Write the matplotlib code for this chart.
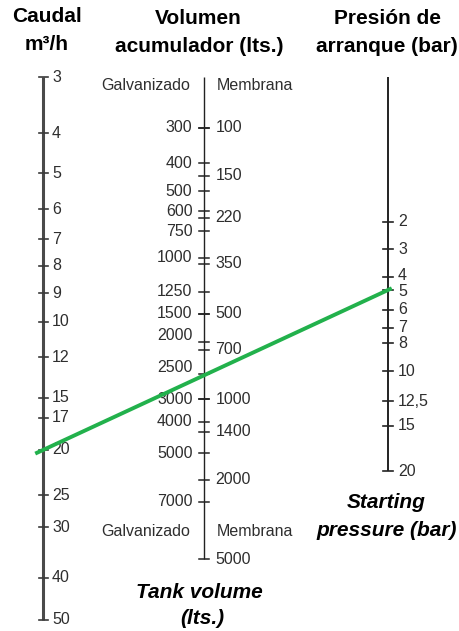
import numpy as np
from matplotlib import pyplot as plt

plt.rcParams['font.family'] = ['Liberation Sans', 'DejaVu Sans']

# scale values and where they sit on each axis (px from top)
caudal_vals = [3, 4, 5, 6, 7, 8, 9, 10, 12, 15, 17, 20, 25, 30, 40, 50]
caudal_pos = [77, 133, 173, 209, 239, 266, 293, 322, 357, 398, 418, 450, 495, 527, 578, 620]

galv_vals = [300, 400, 500, 600, 750, 1000, 1250, 1500, 2000, 2500, 3000, 4000, 5000, 7000]
galv_pos = [128, 163, 191, 211, 231, 258, 292, 314, 342, 374, 399, 422, 453, 502]

memb_vals = [100, 150, 220, 350, 500, 700, 1000, 1400, 2000, 5000]
memb_pos = [128, 176, 218, 264, 314, 350, 399, 432, 480, 559]

pres_vals = [2, 3, 4, 5, 6, 7, 8, 10, 12.5, 15, 20]
pres_labels = ['2', '3', '4', '5', '6', '7', '8', '10', '12,5', '15', '20']
pres_pos = [222, 249, 277, 290, 310, 328, 343, 371, 401, 426, 471]

# example reading drawn in green
read_caudal = 20
read_pres = 5

#--------------------------------------------------------------------------------------------
fig = plt.figure(figsize=(4.59, 6.31), dpi=100)
ax = fig.add_axes([0, 0, 1, 1])
ax.set_xlim(0, 459)
ax.set_ylim(631, 0)
ax.axis('off')

xl, xm, xr = 43, 203.5, 388
lab_c = '#2e2e2e'
fs = 11.5

def draw_axis(x, top, bottom, lw, color):
  ax.plot([x, x], [top, bottom], color=color, lw=lw, solid_capstyle='butt', zorder=2)

def ticks(x, pos, half, lw, color):
  for p in pos:
    ax.plot([x - half, x + half], [p, p], color=color, lw=lw, zorder=2)

# caudal
draw_axis(xl, caudal_pos[0], caudal_pos[-1], 2.2, '#4a4a4a')
ticks(xl, caudal_pos, 4.5, 1.2, '#3a3a3a')
for v, p in zip(caudal_vals, caudal_pos):
  ax.text(xl + 9, p, str(v), ha='left', va='center', fontsize=fs, color=lab_c)

# volumen
draw_axis(xm, 77, memb_pos[-1], 1.0, '#222222')
ticks(xm, galv_pos, 5, 1.1, '#222222')
ticks(xm, memb_pos, 5, 1.1, '#222222')
nudge = {2000: -7, 2500: -7}
for v, p in zip(galv_vals, galv_pos):
  ax.text(xm - 11, p + nudge.get(v, 0), str(v), ha='right', va='center', fontsize=fs, color=lab_c)
for v, p in zip(memb_vals, memb_pos):
  ax.text(xm + 12, p, str(v), ha='left', va='center', fontsize=fs, color=lab_c)
for y in [86, 532]:
  ax.text(xm - 13, y, 'Galvanizado', ha='right', va='center', fontsize=fs, color=lab_c)
  ax.text(xm + 13, y, 'Membrana', ha='left', va='center', fontsize=fs, color=lab_c)

# presion
draw_axis(xr, 77, pres_pos[-1], 1.4, '#222222')
ticks(xr, pres_pos, 5, 1.2, '#222222')
pnudge = {'4': -2, '5': 1}
for t, p in zip(pres_labels, pres_pos):
  ax.text(xr + 10, p + pnudge.get(t, 0), t, ha='left', va='center', fontsize=fs, color=lab_c)

# green reading line, through the two scales
yl = np.interp(read_caudal, caudal_vals, caudal_pos)
yr = np.interp(read_pres, pres_vals, pres_pos)
k = (yr - yl) / (xr - xl)
x0, x1 = xl - 6, xr + 2
ax.plot([x0, x1], [yl + k * (x0 - xl), yl + k * (x1 - xl)], color='#22b14c', lw=2.8, zorder=3)

# titles
tkw = dict(ha='center', va='center', fontsize=15, fontweight='bold', color='black')
ax.text(47, 17, 'Caudal', **tkw)
ax.text(47, 45, 'm³/h', **tkw)
ax.text(198, 18, 'Volumen', **tkw)
ax.text(199, 46, 'acumulador (lts.)', **tkw)
ax.text(387, 19, 'Presión de', **tkw)
ax.text(387, 46, 'arranque (bar)', **tkw)

ikw = dict(tkw, fontstyle='italic')
ax.text(199, 593, 'Tank volume', **ikw)
ax.text(202, 619, '(lts.)', **ikw)
ax.text(386, 503, 'Starting', **ikw)
ax.text(387, 530, 'pressure (bar)', **ikw)

plt.savefig('out.png', dpi=100)
